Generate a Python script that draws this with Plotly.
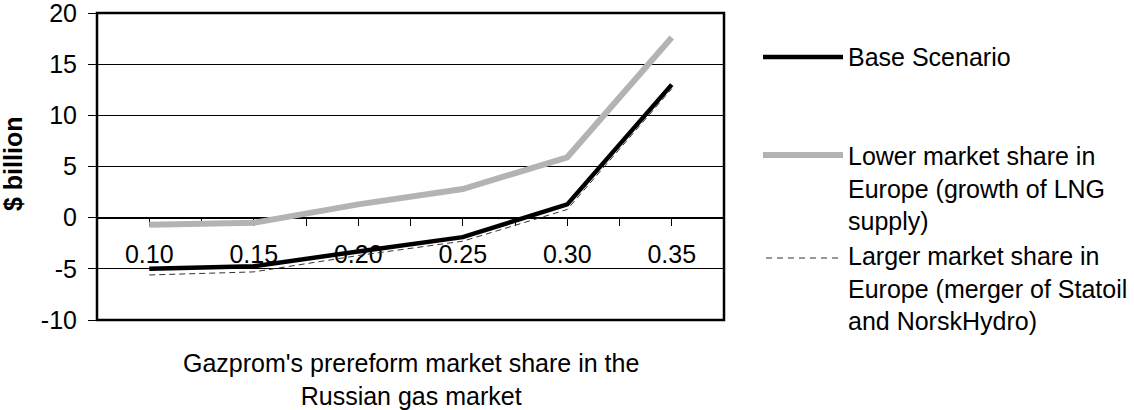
import plotly.graph_objects as go

# ---- data ----
market_share = [0.10, 0.15, 0.20, 0.25, 0.30, 0.35]
base_scenario = [-5.0, -4.75, -3.3, -1.9, 1.3, 13.0]
lower_share = [-0.7, -0.5, 1.3, 2.8, 5.9, 17.6]
larger_share = [-5.6, -5.3, -3.7, -2.3, 0.8, 12.6]
tick_labels = ["0.10", "0.15", "0.20", "0.25", "0.30", "0.35"]
y_ticks = [-10, -5, 0, 5, 10, 15, 20]
y_tick_labels = ["-10", "-5", "0", "5", "10", "15", "20"]

series_names = [
    "Base Scenario",
    "Lower market share in<br>Europe (growth of LNG<br>supply)",
    "Larger market share in<br>Europe (merger of Statoil<br>and NorskHydro)",
]

FONT = "Liberation Sans, Arial, sans-serif"
FS = 25
W, H = 1134, 410
ML, MT = 97, 13
PW, PH = 627, 307
MR = W - ML - PW
MB = H - MT - PH


def px_x(x):
    # x in page pixels -> paper coordinate
    return (x - ML) / PW


def px_y(y):
    # y in page pixels -> paper coordinate
    return (MT + PH - y) / PH


fig = go.Figure()
fig.add_trace(go.Scatter(x=market_share, y=lower_share, mode="lines",
                         line=dict(color="#b3b3b3", width=6),
                         showlegend=False, name="Lower"))
fig.add_trace(go.Scatter(x=market_share, y=larger_share, mode="lines",
                         line=dict(color="#333333", width=1, dash="6px,4px"),
                         showlegend=False, name="Larger"))
fig.add_trace(go.Scatter(x=market_share, y=base_scenario, mode="lines",
                         line=dict(color="black", width=4.5),
                         showlegend=False, name="Base"))

fig.update_layout(
    width=W, height=H,
    margin=dict(l=ML, r=MR, t=MT, b=MB, pad=0, autoexpand=False),
    paper_bgcolor="white", plot_bgcolor="white",
    font=dict(family=FONT, size=FS, color="black"),
    xaxis=dict(
        range=[0.075, 0.375],
        tickvals=market_share, ticktext=tick_labels,
        ticks="outside", ticklen=7, tickwidth=1, tickcolor="black",
        minor=dict(dtick=0.025, tick0=0.075, ticks="outside", ticklen=7,
                   tickwidth=1, tickcolor="black", showgrid=False),
        showgrid=False, zeroline=False,
        showline=True, linecolor="black", linewidth=1,
        anchor="free", position=1/3,
        ticklabelstandoff=7,
        automargin=False,
        layer="below traces",
        tickfont=dict(family=FONT, size=FS, color="black"),
    ),
    yaxis=dict(
        range=[-10, 20], tickvals=y_ticks, ticktext=y_tick_labels,
        ticks="outside", ticklen=8, tickwidth=1, tickcolor="black",
        showgrid=True, gridcolor="black", gridwidth=1,
        zeroline=False, showline=False,
        ticklabelstandoff=6,
        ticklabeloverflow="allow",
        automargin=False,
        tickfont=dict(family=FONT, size=FS, color="black"),
    ),
    shapes=[
        dict(type="rect", xref="paper", yref="paper", x0=0, x1=1, y0=0, y1=1,
             line=dict(color="black", width=2.5), layer="above"),
        # legend samples
        dict(type="line", xref="paper", yref="paper",
             x0=px_x(763), x1=px_x(843), y0=px_y(57), y1=px_y(57),
             line=dict(color="black", width=4.5)),
        dict(type="line", xref="paper", yref="paper",
             x0=px_x(763), x1=px_x(843), y0=px_y(155), y1=px_y(155),
             line=dict(color="#b3b3b3", width=6)),
        dict(type="line", xref="paper", yref="paper",
             x0=px_x(766), x1=px_x(840), y0=px_y(258), y1=px_y(258),
             line=dict(color="#333333", width=1, dash="6px,5px")),
    ],
    annotations=[
        dict(text="$ billion", xref="paper", yref="paper",
             x=px_x(12.5), y=px_y(164.5), xanchor="center", yanchor="middle",
             textangle=-90, showarrow=False,
             font=dict(family=FONT, size=FS, color="black", weight="bold")),
        dict(text="Gazprom's prereform market share in the<br>Russian gas market",
             xref="paper", yref="paper", x=0.5, y=px_y(379),
             xanchor="center", yanchor="middle", align="center",
             showarrow=False, font=dict(family=FONT, size=FS, color="black")),
        dict(text=series_names[0], xref="paper", yref="paper",
             x=px_x(846), y=px_y(57), xanchor="left", yanchor="middle",
             align="left", showarrow=False),
        dict(text=series_names[1], xref="paper", yref="paper",
             x=px_x(846), y=px_y(188), xanchor="left", yanchor="middle",
             align="left", showarrow=False),
        dict(text=series_names[2], xref="paper", yref="paper",
             x=px_x(846), y=px_y(288), xanchor="left", yanchor="middle",
             align="left", showarrow=False),
    ],
)

# the page is photographed from its top-left corner: drop the default body margin
fig.write_html("out.html",
               config={"displayModeBar": False},
               post_script="document.body.style.margin='0px';document.body.style.overflow='hidden';")
